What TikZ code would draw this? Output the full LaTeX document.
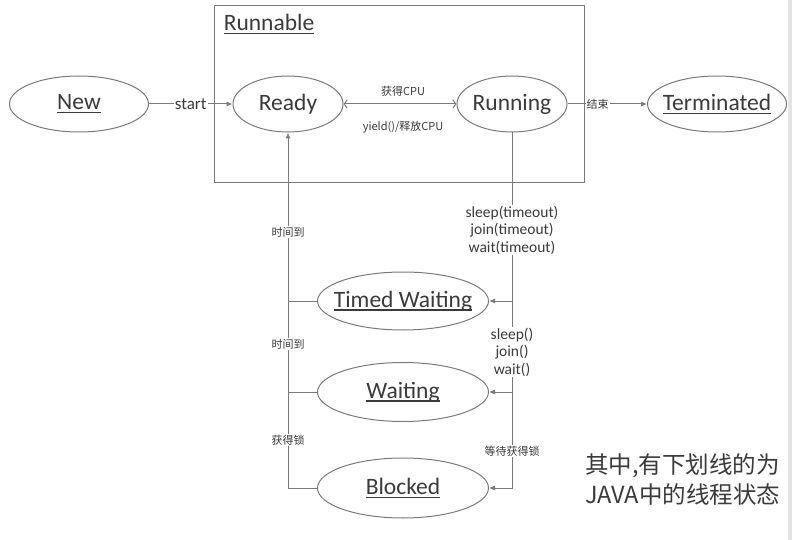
\documentclass[tikz,border=0pt]{standalone}
\usepackage{fontspec}
\setmainfont{Carlito}
\newfontfamily\cjk{Noto Sans CJK SC}
\usepackage{tikz}
\usetikzlibrary{shapes.geometric,arrows.meta}
\definecolor{ink}{HTML}{3A3A3A}
\definecolor{edge}{HTML}{7A7A7A}
\definecolor{strip}{HTML}{E4E4E4}
\tikzset{
  state/.style={ellipse, draw=edge, line width=1pt, text=ink, inner sep=0pt, minimum height=56, font=\fontsize{23.5}{27}\selectfont},
  flow/.style={draw=edge, line width=1pt},
  arr/.style={flow, -{Latex[length=6pt,width=5pt]}},
  swap/.style={flow, {Straight Barb[length=3pt,width=8pt]}-{Straight Barb[length=3pt,width=8pt]}},
  lab/.style={fill=white, text=ink, inner sep=1pt, align=center, font=\fontsize{15.5}{17.5}\selectfont},
  labc/.style={fill=white, text=ink, inner sep=1pt, font=\cjk\fontsize{11}{13}\selectfont},
  note/.style={text=ink, align=left, inner sep=0pt, font=\cjk\fontsize{23.5}{30}\selectfont}
}
\newcommand{\UnderWord}[1]{\setbox0\hbox{#1}\rlap{\rule[-3.5pt]{\wd0}{1.2pt}}\box0}
\newcommand{\StateName}[1]{\makebox[0pt]{\UnderWord{#1}}}
\newcommand{\StatePlain}[1]{\makebox[0pt]{#1}}

\begin{document}
\begin{tikzpicture}[x=1pt, y=-1pt]
  \useasboundingbox (0,0) rectangle (792,540);
  \fill[strip] (788,0) rectangle (792,540);

  % Runnable box
  \draw[flow] (214,6) rectangle (584,183);
  \node[text=ink, font=\fontsize{23.5}{27}\selectfont] (rtitle) at (269,24) {\UnderWord{Runnable}};

  \node[state, minimum width=139] (new) at (79,104) {\StateName{New}};
  \node[state, minimum width=110] (ready) at (288,104) {\StatePlain{Ready}};
  \node[state, minimum width=110] (running) at (512,104) {\StatePlain{Running}};
  \node[state, minimum width=139] (term) at (717,104) {\StateName{Terminated}};
  \node[state, minimum width=171, minimum height=58] (timed) at (403,301) {\StateName{Timed Waiting}};
  \node[state, minimum width=171, minimum height=59] (waiting) at (403,392) {\StateName{Waiting}};
  \node[state, minimum width=171, minimum height=60] (blocked) at (403,488) {\StateName{Blocked}};

  \draw[arr] (new) -- node[lab, font=\fontsize{17}{19}\selectfont] (lstart) {start} (ready);
  \draw[swap] (ready) -- (running);
  \node[labc] (lget) at (403,91) {获得CPU};
  \node[labc] (lyield) at (403,127) {yield()/释放CPU};
  \draw[arr] (running) -- node[labc, pos=0.38] (lend) {结束} (term);

  % right side: into the waiting states
  \coordinate (tj) at (running.south |- timed.east);
  \coordinate (wj) at (running.south |- waiting.east);
  \draw[arr] (running.south) |- (blocked.east);
  \draw[arr] (tj) -- (timed.east);
  \draw[arr] (wj) -- (waiting.east);
  \node[lab] (ltimeout) at (512,230) {sleep(timeout)\\join(timeout)\\wait(timeout)};
  \node[lab] (lwait) at (512,352) {sleep()\\join()\\wait()};
  \node[labc] (llock) at (512,451) {等待获得锁};

  % left side: back to Ready
  \draw[arr] (blocked.west) -| (ready.south);
  \draw[flow] (timed.west) -- (timed.west -| ready.south);
  \draw[flow] (waiting.west) -- (waiting.west -| ready.south);
  \node[labc] (ltime1) at (288,232) {时间到};
  \node[labc] (ltime2) at (288,344) {时间到};
  \node[labc] (lgot) at (288,440) {获得锁};

  \node[note, anchor=west] (remark) at (585,480) {其中,有下划线的为\\JAVA中的线程状态};
\end{tikzpicture}
\end{document}
